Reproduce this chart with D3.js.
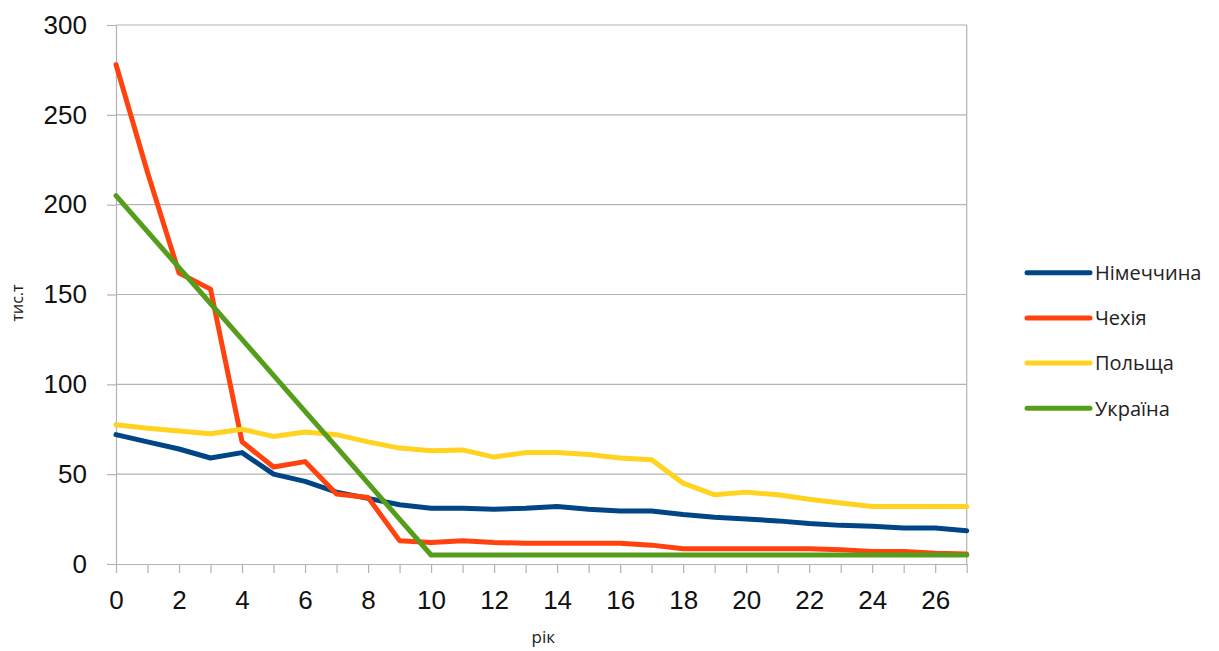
<!DOCTYPE html>
<html>
<head>
<meta charset="utf-8">
<script src="https://cdn.jsdelivr.net/npm/d3@7"></script>
<style>
  html, body { margin: 0; padding: 0; background: #fff; }
  svg { display: block; }
</style>
</head>
<body>
<svg id="chart" width="1219" height="651"></svg>
<script>
// Years on the horizontal axis
const years = d3.range(0, 28);

// Series values, thousand tonnes per year
const germany = [72, 68, 64, 59, 62, 50, 46, 40, 36.5, 33, 31, 31, 30.5, 31, 32, 30.5, 29.5, 29.5, 27.5, 26, 25, 24, 22.5, 21.5, 21, 20, 20, 18.5];
const czechia = [278, 218, 162, 153, 68, 54, 57, 39, 37, 13, 12, 13, 12, 11.5, 11.5, 11.5, 11.5, 10.5, 8.5, 8.5, 8.5, 8.5, 8.5, 8, 7, 7, 6, 5.5];
const poland  = [77.5, 75.5, 74, 72.5, 75, 71, 73.5, 72, 68, 64.5, 63, 63.5, 59.5, 62, 62, 61, 59, 58, 45, 38.5, 40, 38.5, 36, 34, 32, 32, 32, 32];
const ukraine = [205, 185, 165, 145, 125, 105, 85, 65, 45, 25, 5, 5, 5, 5, 5, 5, 5, 5, 5, 5, 5, 5, 5, 5, 5, 5, 5, 5];

const seriesNames  = ["Німеччина", "Чехія", "Польща", "Україна"];
const seriesColors = ["#004586", "#ff420e", "#ffd320", "#579d1c"];
const yTicks = [0, 50, 100, 150, 200, 250, 300];

const series = [germany, czechia, poland, ukraine].map((vals, i) => ({
  name: seriesNames[i], color: seriesColors[i],
  points: years.map((y, j) => ({ x: y, v: vals[j] }))
}));

const svg = d3.select("#chart");
const plot = { left: 116, top: 25, right: 966.7, bottom: 564 };

const x = d3.scaleLinear().domain([0, 27]).range([plot.left, plot.right]);
const y = d3.scaleLinear().domain([0, 300]).range([plot.bottom, plot.top]);

const gridColor = "#b3b3b3";

// horizontal gridlines
svg.append("g").selectAll("line")
  .data(yTicks.filter(t => t > 0))
  .join("line")
  .attr("x1", plot.left).attr("x2", plot.right)
  .attr("y1", d => y(d)).attr("y2", d => y(d))
  .attr("stroke", gridColor).attr("stroke-width", 1.2);

// right edge of the plot wall
svg.append("line")
  .attr("x1", x(27)).attr("x2", x(27))
  .attr("y1", y(300)).attr("y2", y(0))
  .attr("stroke", gridColor).attr("stroke-width", 1.2);

// x axis
const xAxis = svg.append("g")
  .attr("transform", `translate(0,${y(0)})`)
  .call(d3.axisBottom(x)
    .tickValues(years)
    .tickFormat(d => d % 2 === 0 ? d : "")
    .tickSize(9).tickSizeOuter(0).tickPadding(18));

// y axis
const yAxis = svg.append("g")
  .attr("transform", `translate(${x(0)},0)`)
  .call(d3.axisLeft(y)
    .tickValues(yTicks)
    .tickSize(9).tickSizeOuter(0).tickPadding(20));

[xAxis, yAxis].forEach(g => {
  g.select(".domain").attr("stroke", gridColor).attr("stroke-width", 1.2);
  g.selectAll(".tick line").attr("stroke", gridColor).attr("stroke-width", 1.2);
  g.selectAll(".tick text")
    .attr("fill", "#111")
    .style("font-family", "'Liberation Sans', Arial, sans-serif")
    .style("font-size", "26px");
});

// series lines
const line = d3.line().x(d => x(d.x)).y(d => y(d.v));
svg.append("g").selectAll("path")
  .data(series)
  .join("path")
  .attr("d", d => line(d.points))
  .attr("fill", "none")
  .attr("stroke", d => d.color)
  .attr("stroke-width", 5)
  .attr("stroke-linejoin", "round")
  .attr("stroke-linecap", "round");

// axis titles
svg.append("text")
  .attr("x", (plot.left + plot.right) / 2 + 2)
  .attr("y", 643)
  .attr("text-anchor", "middle")
  .style("font-family", "'Open Sans', sans-serif")
  .style("font-size", "17px")
  .attr("fill", "#222")
  .text("рік");

svg.append("text")
  .attr("transform", "translate(23,303) rotate(-90)")
  .attr("text-anchor", "middle")
  .style("font-family", "'Open Sans', sans-serif")
  .style("font-size", "16px")
  .attr("fill", "#222")
  .text("тис.т");

// legend
const legend = svg.append("g").attr("transform", "translate(1027,272.7)");
const rows = legend.selectAll("g")
  .data(series)
  .join("g")
  .attr("transform", (d, i) => `translate(0,${i * 45.2})`);
rows.append("line")
  .attr("x1", 0).attr("x2", 63)
  .attr("y1", 0).attr("y2", 0)
  .attr("stroke", d => d.color)
  .attr("stroke-width", 5)
  .attr("stroke-linecap", "round");
rows.append("text")
  .attr("x", 68).attr("y", 0).attr("dy", "0.36em")
  .style("font-family", "'Open Sans', sans-serif")
  .style("font-size", "20px")
  .attr("fill", "#222")
  .text(d => d.name);
</script>
</body>
</html>
